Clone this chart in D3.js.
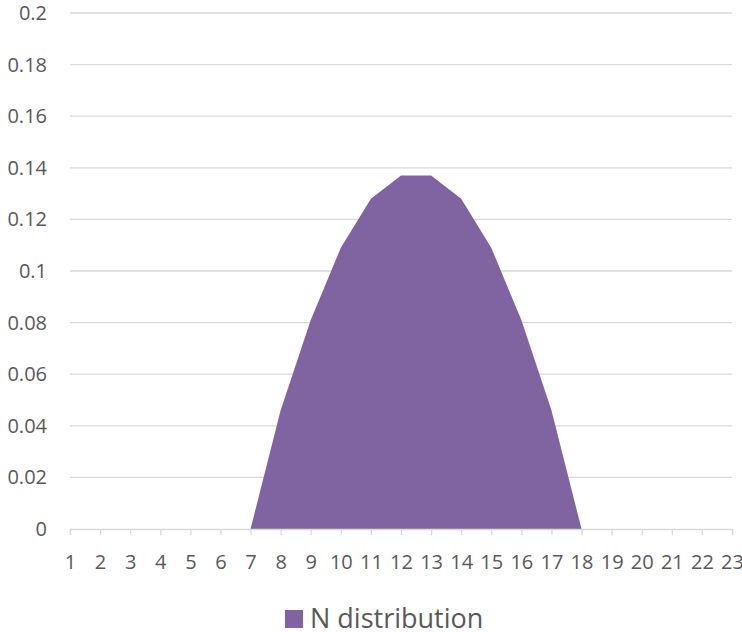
<!DOCTYPE html>
<html>
<head>
<meta charset="utf-8">
<script src="https://cdn.jsdelivr.net/npm/d3@7"></script>
<style>
  body { margin: 0; background: #fff; }
  text { font-family: "Open Sans", "Liberation Sans", sans-serif; fill: #595959; }
</style>
</head>
<body>
<div id="chart"></div>
<script>
// categories along the x axis
var categories = d3.range(1, 24);
// N distribution values
var values = [0, 0, 0, 0, 0, 0, 0, 0.046, 0.081, 0.109, 0.128, 0.137, 0.137,
              0.128, 0.109, 0.081, 0.046, 0, 0, 0, 0, 0, 0];
var yTicks = [0, 0.02, 0.04, 0.06, 0.08, 0.1, 0.12, 0.14, 0.16, 0.18, 0.2];
var seriesName = "N distribution";

var width = 742, height = 632;
var svg = d3.select("#chart").append("svg")
    .attr("width", width).attr("height", height);

var x = d3.scalePoint().domain(categories).range([70, 732]);
var y = d3.scaleLinear().domain([0, 0.2]).range([529, 13]);

// gridlines
svg.append("g").selectAll("line")
    .data(yTicks.slice(1))
    .enter().append("line")
    .attr("x1", 70).attr("x2", 732)
    .attr("y1", function(d) { return y(d); })
    .attr("y2", function(d) { return y(d); })
    .attr("stroke", "#d9d9d9").attr("stroke-width", 1.3);

// y labels
svg.append("g").selectAll("text")
    .data(yTicks)
    .enter().append("text")
    .attr("x", 47)
    .attr("y", function(d) { return y(d); })
    .attr("dy", "0.35em")
    .attr("text-anchor", "end")
    .style("font-size", "20px")
    .text(function(d) { return d; });

// area
var area = d3.area()
    .x(function(d, i) { return x(categories[i]); })
    .y0(y(0))
    .y1(function(d) { return y(d); });

svg.append("path")
    .datum(values)
    .attr("d", area)
    .attr("fill", "#8064a2");

// x axis
var xAxis = d3.axisBottom(x).tickSize(6).tickPadding(20);
var gx = svg.append("g")
    .attr("transform", "translate(0," + y(0) + ")")
    .call(xAxis);
gx.select(".domain").attr("stroke", "#d9d9d9").attr("stroke-width", 1.3);
gx.selectAll(".tick line").attr("stroke", "#d9d9d9").attr("stroke-width", 1.3);
gx.selectAll(".tick text")
    .style("font-size", "20px")
    .style("font-family", "'Open Sans', 'Liberation Sans', sans-serif")
    .attr("fill", "#595959");

// legend
var legend = svg.append("g").attr("transform", "translate(285,610)");
legend.append("rect")
    .attr("width", 18).attr("height", 18)
    .attr("fill", "#8064a2");
legend.append("text")
    .attr("x", 25).attr("y", 18)
    .style("font-size", "27px")
    .text(seriesName);
</script>
</body>
</html>
